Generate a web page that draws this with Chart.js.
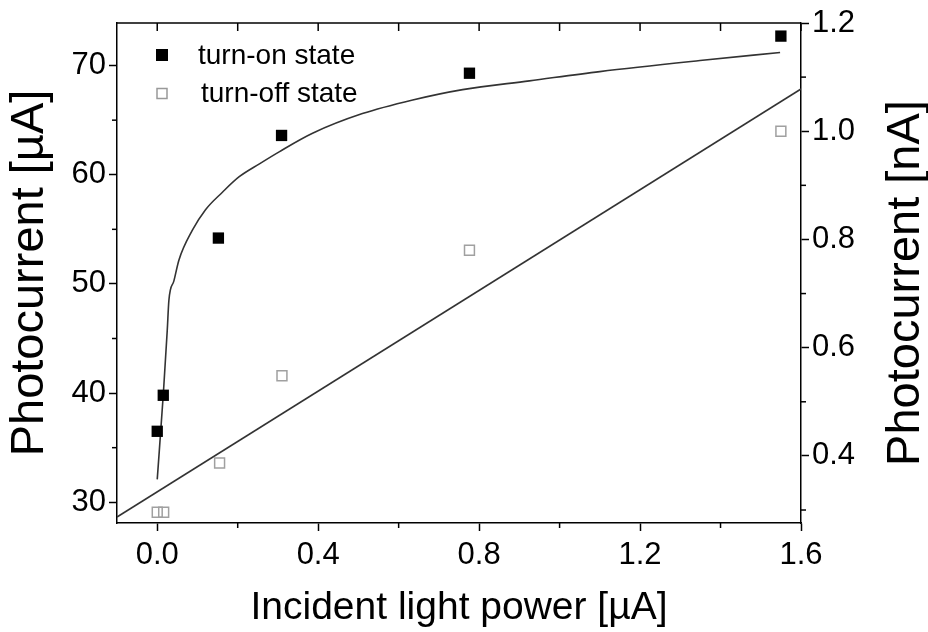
<!DOCTYPE html>
<html>
<head>
<meta charset="utf-8">
<script src="https://cdn.jsdelivr.net/npm/chart.js@4"></script>
<style>
  html, body { margin: 0; padding: 0; background: #fff; }
  #wrap { width: 928px; height: 632px; }
</style>
</head>
<body>
<div id="wrap"><canvas id="chart"></canvas></div>
<script>
// measured points
const xOn = [0.0, 0.015, 0.152, 0.309, 0.776, 1.55];
const yOn = [36.5, 39.8, 54.2, 63.6, 69.3, 72.7];
const xOff = [0.0, 0.016, 0.155, 0.31, 0.776, 1.55];
const yOff = [0.296, 0.296, 0.387, 0.548, 0.78, 1.0];

// fitted curves
const xFitOn = [0.0, 0.015, 0.0249, 0.029, 0.0416, 0.054, 0.087, 0.12, 0.162, 0.203, 0.254, 0.303, 0.386, 0.51, 0.635, 0.759, 0.925, 1.10, 1.349, 1.548];
const yFitOn = [32.1, 39.85, 45.75, 48.5, 50.3, 52.2, 54.9, 56.8, 58.4, 59.8, 61.0, 62.1, 63.8, 65.6, 66.85, 67.8, 68.6, 69.45, 70.46, 71.2];
const xFitOff = [-0.1, 1.6];
const yFitOff = [0.287, 1.078];

// axes
const xTicks = [0.0, 0.4, 0.8, 1.2, 1.6];
const xMinor = [0.2, 0.6, 1.0, 1.4];
const yTicks = [30, 40, 50, 60, 70];
const yMinor = [35, 45, 55, 65];
const y2Ticks = [0.4, 0.6, 0.8, 1.0, 1.2];
const y2Minor = [0.3, 0.5, 0.7, 0.9, 1.1];

const FONT = "'Liberation Sans', Arial, sans-serif";
const pts = (xs, ys) => xs.map((x, i) => ({ x: x, y: ys[i] }));

// frame, minor ticks, legend and right title
const framePlugin = {
  id: "frame",
  afterDraw(chart) {
    const { ctx, chartArea: a, scales } = chart;
    const line = (x1, y1, x2, y2) => {
      ctx.beginPath(); ctx.moveTo(x1, y1); ctx.lineTo(x2, y2); ctx.stroke();
    };
    ctx.save();
    ctx.strokeStyle = "#000";
    ctx.lineWidth = 1.5;
    line(a.left, a.top, a.right, a.top);
    xTicks.concat(xMinor).forEach(v => {
      const px = scales.x.getPixelForValue(v);
      line(px, a.top, px, a.top + 8);
    });
    xMinor.forEach(v => {
      const px = scales.x.getPixelForValue(v);
      line(px, a.bottom, px, a.bottom + 5);
    });
    yMinor.forEach(v => {
      const py = scales.y.getPixelForValue(v);
      line(a.left, py, a.left - 5, py);
    });
    y2Minor.forEach(v => {
      const py = scales.y2.getPixelForValue(v);
      line(a.right, py, a.right + 5, py);
    });

    // legend
    ctx.font = "28px " + FONT;
    ctx.textBaseline = "middle";
    ctx.fillStyle = "#000";
    ctx.fillRect(156, 49, 12, 12);
    ctx.fillText(chart.data.datasets[0].label, 198, 56);
    ctx.strokeStyle = "#999";
    ctx.lineWidth = 1.5;
    ctx.strokeRect(157, 88.5, 10, 10);
    ctx.fillStyle = "#000";
    ctx.fillText(chart.data.datasets[1].label, 201, 94);

    // right axis title, reading upwards
    ctx.translate(906, (a.top + a.bottom) / 2 + 10);
    ctx.rotate(-Math.PI / 2);
    ctx.textAlign = "center";
    ctx.font = "47px " + FONT;
    ctx.fillText("Photocurrent [nA]", 0, 0);
    ctx.restore();
  }
};

const axisGrid = { display: true, drawOnChartArea: false, drawTicks: true, tickLength: 8, color: "#000", tickColor: "#000", tickWidth: 1.5 };
const axisBorder = { display: true, color: "#000", width: 1.5 };

new Chart(document.getElementById("chart"), {
  type: "scatter",
  data: {
    datasets: [
      {
        label: "turn-on state",
        data: pts(xOn, yOn),
        yAxisID: "y",
        pointStyle: "rect",
        pointRadius: 8,
        backgroundColor: "#000",
        borderColor: "#000",
        borderWidth: 0,
        order: 0
      },
      {
        label: "turn-off state",
        data: pts(xOff, yOff),
        yAxisID: "y2",
        pointStyle: "rect",
        pointRadius: 7,
        backgroundColor: "rgba(0,0,0,0)",
        borderColor: "#a0a0a0",
        borderWidth: 1.5,
        order: 0
      },
      {
        label: "fit on",
        data: pts(xFitOn, yFitOn),
        yAxisID: "y",
        showLine: true,
        pointRadius: 0,
        borderColor: "#333",
        borderWidth: 1.6,
        cubicInterpolationMode: "monotone",
        order: 1
      },
      {
        label: "fit off",
        data: pts(xFitOff, yFitOff),
        yAxisID: "y2",
        showLine: true,
        pointRadius: 0,
        borderColor: "#333",
        borderWidth: 1.6,
        order: 1
      }
    ]
  },
  options: {
    responsive: true,
    maintainAspectRatio: false,
    animation: false,
    layout: { padding: { top: 23, left: 0, right: 0, bottom: 0 } },
    plugins: { legend: { display: false }, tooltip: { enabled: false } },
    scales: {
      x: {
        type: "linear",
        position: "bottom",
        min: -0.1,
        max: 1.6,
        afterBuildTicks: s => { s.ticks = xTicks.map(v => ({ value: v })); },
        afterFit: s => { s.height = 109; },
        ticks: { color: "#000", font: { family: FONT, size: 31 }, padding: 6, maxRotation: 0, callback: v => v.toFixed(1) },
        grid: axisGrid,
        border: axisBorder,
        title: { display: true, text: "Incident light power [µA]", color: "#000", font: { family: FONT, size: 39 }, padding: { top: 0, bottom: 0 } }
      },
      y: {
        type: "linear",
        position: "left",
        min: 28.1,
        max: 73.9,
        afterBuildTicks: s => { s.ticks = yTicks.map(v => ({ value: v })); },
        afterFit: s => { s.width = 117; },
        ticks: { color: "#000", font: { family: FONT, size: 31 }, padding: 3 },
        grid: axisGrid,
        border: axisBorder,
        title: { display: true, text: "Photocurrent [µA]", color: "#000", font: { family: FONT, size: 47 }, padding: { top: 2, bottom: 0 } }
      },
      y2: {
        type: "linear",
        position: "right",
        min: 0.276,
        max: 1.2,
        afterBuildTicks: s => { s.ticks = y2Ticks.map(v => ({ value: v })); },
        afterFit: s => { s.width = 127; },
        ticks: { color: "#000", font: { family: FONT, size: 31 }, padding: 3, callback: v => v.toFixed(1) },
        grid: axisGrid,
        border: axisBorder
      }
    }
  },
  plugins: [framePlugin]
});
</script>
</body>
</html>
